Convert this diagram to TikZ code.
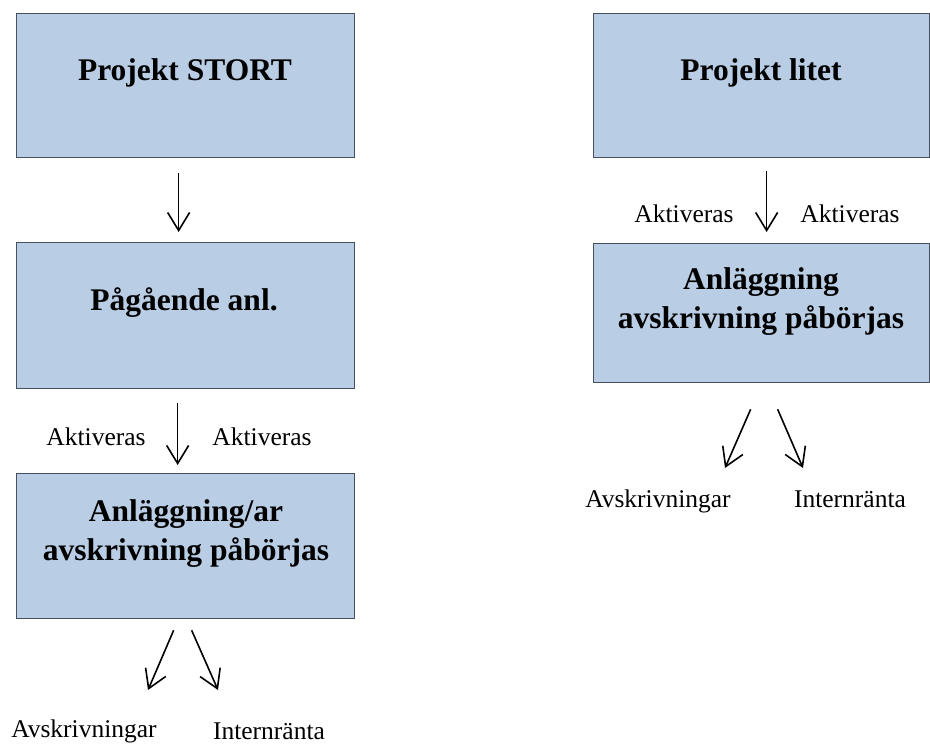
\documentclass[tikz,border=0pt]{standalone}
\usepackage{fontspec}
\setmainfont{Liberation Serif}
\usetikzlibrary{arrows.meta,calc}

\definecolor{rutafarg}{HTML}{B9CDE5}
\definecolor{kantfarg}{HTML}{46505E}

\begin{document}
\begin{tikzpicture}[x=1pt,y=-1pt,
		ruta/.style={draw=kantfarg,line width=1.3pt,fill=rutafarg,inner sep=0pt,anchor=north west},
		rubrik/.style={font=\fontsize{31.5}{39}\selectfont\bfseries,align=center,inner sep=0pt,anchor=base},
		etikett/.style={font=\fontsize{25.5}{30}\selectfont,inner sep=0pt,anchor=base},
		pil/.style={-{Straight Barb[length=18pt,width=22pt]},line width=1.6pt}]
		
		\useasboundingbox (0,0) rectangle (930,744);
		
		%rutor
		\foreach \n/\x/\y/\b/\h in {stort/16/13/338/144,pagaende/16/242/338/146,anlL/16/473/338/145,litet/593/13/336/144,anlR/593/243/336/139}
		{
			\node[ruta,minimum width=\b pt,minimum height=\h pt] (\n) at (\x,\y) {};
		}
		
		%rubriker
		\node[rubrik] (stortT) at (185,80) {Projekt STORT};
		\node[rubrik] (pagaendeT) at (184,310) {Pågående anl.};
		\node[rubrik] (anlLT) at (186,560) {Anläggning/ar\\avskrivning påbörjas};
		\node[rubrik] (litetT) at (761,80) {Projekt litet};
		\node[rubrik] (anlRT) at (761,328) {Anläggning\\avskrivning påbörjas};
		
		%etiketter
		\foreach \n/\x/\y/\t in {aktL1/96/445/Aktiveras,aktL2/262/445/Aktiveras,aktR1/684/222/Aktiveras,aktR2/850/222/Aktiveras,avL/84/737/Avskrivningar,inL/269/739/Internränta,avR/658/507/Avskrivningar,inR/850/507/Internränta}
		{
			\node[etikett] (\n) at (\x,\y) {\t};
		}
		
		%pilar
		\draw[pil] ($(stort.south)+(-7,15)$) -- ($(pagaende.north)+(-7,-10)$);
		\draw[pil] ($(pagaende.south)+(-8,14)$) -- ($(anlL.north)+(-8,-8)$);
		\draw[pil] ($(litet.south)+(5,13)$) -- ($(anlR.north)+(5,-11)$);
		\draw[pil] ($(anlL.south)+(-12,11)$) -- ($(avL.base)+(64,-47)$);
		\draw[pil] ($(anlL.south)+(6,11)$) -- ($(inL.base)+(-51,-49)$);
		\draw[pil] ($(anlR.south)+(-11,26)$) -- ($(avR.base)+(67,-39)$);
		\draw[pil] ($(anlR.south)+(16,26)$) -- ($(inR.base)+(-47,-39)$);
		
\end{tikzpicture}
\end{document}
